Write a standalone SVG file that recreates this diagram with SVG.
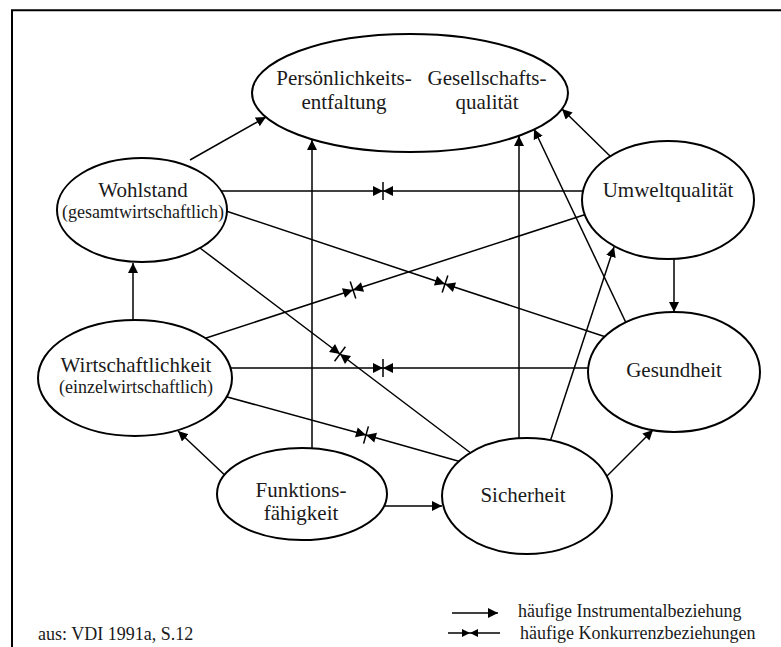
<svg xmlns="http://www.w3.org/2000/svg" width="781" height="647" viewBox="0 0 781 647">
<style>
.frame{fill:none;stroke:#000;stroke-width:2}
.node{fill:#fff;stroke:#000;stroke-width:2}
.c{fill:none;stroke:#000;stroke-width:1.5}
.a{marker-end:url(#arr)}
.k{marker-mid:url(#conc)}
.t{font-family:"Liberation Serif","Times New Roman",serif;font-size:21px;fill:#1a1a1a;text-anchor:middle}
.s{font-family:"Liberation Serif","Times New Roman",serif;font-size:18px;fill:#1a1a1a;text-anchor:middle}
.l{font-family:"Liberation Serif","Times New Roman",serif;font-size:18px;fill:#1a1a1a}
</style>
<defs>
<marker id="arr" markerUnits="userSpaceOnUse" markerWidth="12" markerHeight="12" refX="10" refY="5" orient="auto" viewBox="0 0 12 12">
<path d="M0,0 L10,5 L0,10 z" fill="#000"/>
</marker>
<marker id="conc" markerUnits="userSpaceOnUse" markerWidth="24" markerHeight="24" refX="12" refY="12" orient="auto" viewBox="0 0 24 24">
<path d="M2,7 L12,12 L2,17 z M22,7 L12,12 L22,17 z" fill="#000"/>
<path d="M12,3 V21" stroke="#000" stroke-width="1.5"/>
</marker>
<marker id="concS" markerUnits="userSpaceOnUse" markerWidth="20" markerHeight="20" refX="10" refY="10" orient="auto" viewBox="0 0 20 20">
<path d="M2,6 L10,10 L2,14 z M18,6 L10,10 L18,14 z" fill="#000"/>
</marker>
</defs>
<path class="frame" d="M12,647 V10.3 H781"/>
<g id="connectors">
<line class="c a" x1="190" y1="160" x2="266" y2="117"/>
<line class="c a" x1="612" y1="158" x2="562" y2="109"/>
<line class="c a" x1="674" y1="252" x2="674" y2="312"/>
<line class="c a" x1="133" y1="330" x2="133" y2="263"/>
<line class="c a" x1="230" y1="480" x2="178" y2="431"/>
<line class="c a" x1="312" y1="455" x2="312" y2="140"/>
<line class="c a" x1="380" y1="506" x2="442" y2="506"/>
<line class="c a" x1="519" y1="445" x2="519" y2="136"/>
<line class="c a" x1="549" y1="445" x2="614" y2="247"/>
<line class="c a" x1="628" y1="327" x2="534" y2="129"/>
<line class="c a" x1="605" y1="478" x2="653" y2="430"/>
<polyline class="c k" points="215,191 383,191 590,191"/>
<polyline class="c k" points="220,209 445,284 612,339"/>
<polyline class="c k" points="590,213 353,290 200,340"/>
<polyline class="c k" points="225,368 383,368 595,368"/>
<polyline class="c k" points="200,248 340,354 476,457"/>
<polyline class="c k" points="220,395 366,435 465,463"/>
</g>
<g id="n-top"><ellipse class="node" cx="410" cy="93" rx="158" ry="59"/>
<text class="t" x="344" y="85">Persönlichkeits-</text><text class="t" x="344" y="109">entfaltung</text>
<text class="t" x="487" y="85">Gesellschafts-</text><text class="t" x="487" y="109">qualität</text></g>
<g id="n-wohlstand"><ellipse class="node" cx="142" cy="210" rx="85" ry="52"/>
<text class="t" x="143" y="197">Wohlstand</text><text class="s" x="143" y="218">(gesamtwirtschaftlich)</text></g>
<g id="n-umwelt"><ellipse class="node" cx="668" cy="200" rx="86" ry="59"/>
<text class="t" x="668" y="197">Umweltqualität</text></g>
<g id="n-wirtschaft"><ellipse class="node" cx="135" cy="378" rx="97" ry="58"/>
<text class="t" x="136" y="372">Wirtschaftlichkeit</text><text class="s" x="136" y="393">(einzelwirtschaftlich)</text></g>
<g id="n-gesundheit"><ellipse class="node" cx="674" cy="372" rx="86" ry="60"/>
<text class="t" x="674" y="377">Gesundheit</text></g>
<g id="n-funktion"><ellipse class="node" cx="302" cy="494" rx="85" ry="46"/>
<text class="t" x="301" y="497">Funktions-</text><text class="t" x="301" y="520">fähigkeit</text></g>
<g id="n-sicherheit"><ellipse class="node" cx="527" cy="496" rx="85" ry="58"/>
<text class="t" x="523" y="502">Sicherheit</text></g>
<g id="legend">
<line class="c a" x1="452" y1="613" x2="498" y2="613"/>
<text class="l" x="518" y="617">häufige Instrumentalbeziehung</text>
<polyline class="c" style="marker-mid:url(#concS)" points="448,633 470,633 500,633"/>
<text class="l" x="520" y="639">häufige Konkurrenzbeziehungen</text>
<text class="l" x="38" y="640">aus: VDI 1991a, S.12</text>
</g>
</svg>
